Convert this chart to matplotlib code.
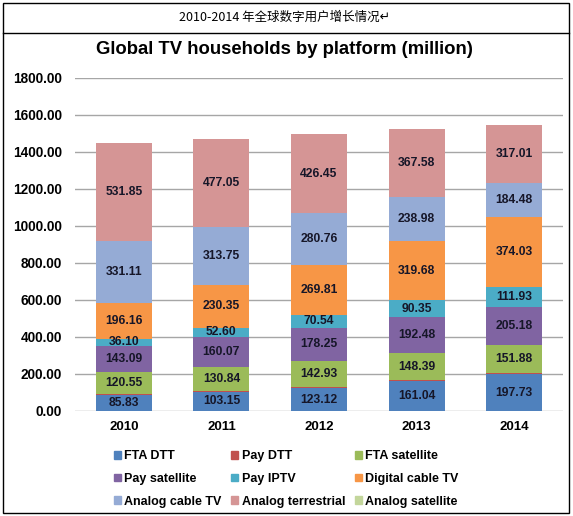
import numpy as np
import matplotlib.pyplot as plt
from matplotlib.patches import Rectangle
from matplotlib.lines import Line2D

plt.rcParams['font.family'] = ['Liberation Sans', 'DejaVu Sans']

years = ['2010', '2011', '2012', '2013', '2014']
fta_dtt = [85.83, 103.15, 123.12, 161.04, 197.73]
pay_dtt = [3.5, 4.0, 4.5, 5.0, 5.5]
fta_sat = [120.55, 130.84, 142.93, 148.39, 151.88]
pay_sat = [143.09, 160.07, 178.25, 192.48, 205.18]
pay_iptv = [36.10, 52.60, 70.54, 90.35, 111.93]
dig_cable = [196.16, 230.35, 269.81, 319.68, 374.03]
ana_cable = [331.11, 313.75, 280.76, 238.98, 184.48]
ana_terr = [531.85, 477.05, 426.45, 367.58, 317.01]
ana_sat = [0.3, 0.3, 0.2, 0.2, 0.1]

series = [
    ('FTA DTT', fta_dtt, '#4F81BD', True),
    ('Pay DTT', pay_dtt, '#C0504D', False),
    ('FTA satellite', fta_sat, '#9BBB59', True),
    ('Pay satellite', pay_sat, '#8064A2', True),
    ('Pay IPTV', pay_iptv, '#4BACC6', True),
    ('Digital cable TV', dig_cable, '#F79646', True),
    ('Analog cable TV', ana_cable, '#95ABD5', True),
    ('Analog terrestrial', ana_terr, '#D59595', True),
    ('Analog satellite', ana_sat, '#C3D69B', False),
]

fig = plt.figure(figsize=(5.73, 5.16), dpi=100)
ax = fig.add_axes([0.131, 0.2035, 0.8515, 0.6455])

x = np.arange(len(years))
bottom = np.zeros(len(years))
handles = []
for name, vals, col, show in series:
    vals = np.array(vals)
    ax.bar(x, vals, 0.575, bottom=bottom, color=col, zorder=3)
    if show:
        for xi, b, v in zip(x, bottom, vals):
            ax.text(xi, b + v / 2, f'{v:.2f}', ha='center', va='center',
                    fontsize=8.7, fontweight='bold', color='#161628', zorder=4)
    handles.append(Rectangle((0, 0), 1, 1, color=col, label=name))
    bottom += vals

ax.set_xlim(-0.5, 4.5)
ax.set_ylim(0, 1800)
ax.set_yticks(np.arange(0, 1801, 200))
ax.set_yticklabels([f'{v:.2f}' for v in np.arange(0, 1801, 200)])
ax.set_xticks(x)
ax.set_xticklabels(years)
for lbl in ax.get_yticklabels():
    lbl.set_fontweight('bold')
    lbl.set_fontsize(9.8)
for lbl in ax.get_xticklabels():
    lbl.set_fontweight('bold')
    lbl.set_fontsize(9.5)
ax.tick_params(axis='y', length=0, pad=9.5)
ax.tick_params(axis='x', length=0, pad=7)
ax.grid(axis='y', color='#A6A6A6', linewidth=1, zorder=0)
for s in ax.spines.values():
    s.set_visible(False)

fig.text(0.497, 1 - 50 / 516, 'Global TV households by platform (million)',
         ha='center', va='center', fontsize=13.3, fontweight='bold')
fig.text(0.497, 1 - 17 / 516, '2010-2014 年全球数字用户增长情况↵',
         ha='center', va='center', fontsize=9,
         family=['Noto Sans CJK SC', 'DejaVu Sans'])

order = [0, 3, 6, 1, 4, 7, 2, 5, 8]
fig.legend([handles[i] for i in order], [handles[i].get_label() for i in order],
           ncol=3, loc='upper left', bbox_to_anchor=(0.19, 0.137),
           frameon=False, prop={'weight': 'bold', 'size': 9},
           handlelength=0.55, handleheight=0.55, handletextpad=0.3,
           columnspacing=0.75, labelspacing=0.85, borderaxespad=0)

# table border around the figure
fig.add_artist(Rectangle((3 / 573, 3 / 516), 566 / 573, 510 / 516, fill=False,
                         edgecolor='black', linewidth=1, transform=fig.transFigure))
fig.add_artist(Line2D([3 / 573, 569 / 573], [1 - 33 / 516, 1 - 33 / 516],
                      color='black', linewidth=1, transform=fig.transFigure))

fig.savefig('out.png', dpi=100)
